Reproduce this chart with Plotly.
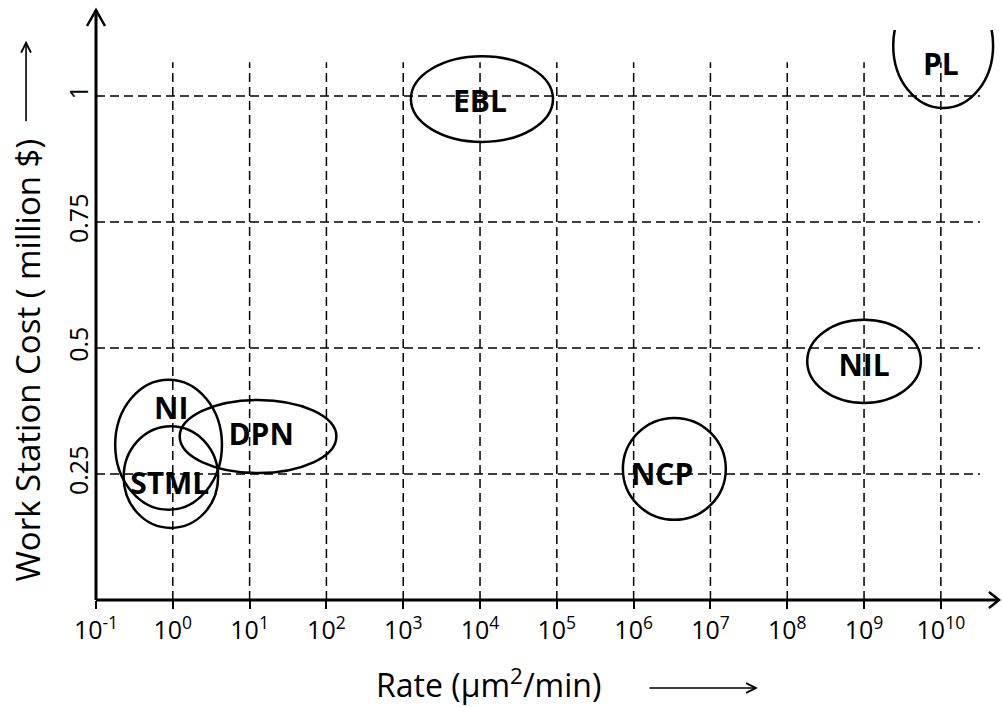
import plotly.graph_objects as go

# ---- data (rates as base-10 exponents of um^2/min, cost in million $) ----
technique = ["NI", "STML", "DPN", "EBL", "NCP", "NIL", "PL"]
rate_exp_low = [-0.75, -0.64, 0.09, 3.10, 5.86, 8.26, 9.38]
rate_exp_high = [0.64, 0.59, 2.13, 4.95, 7.20, 9.74, 10.68]
cost_low = [0.179, 0.143, 0.252, 0.909, 0.159, 0.391, 0.976]
cost_high = [0.437, 0.345, 0.397, 1.079, 0.361, 0.556, 1.224]
label_rate_exp = [-0.02, -0.04, 1.15, 4.0, 6.37, 9.0, 10.0]
label_cost = [0.375, 0.226, 0.323, 0.984, 0.244, 0.460, 1.056]

x_tick_exps = list(range(-1, 11))
x_tick_labels = [f"10<sup>{e}</sup>" for e in x_tick_exps]
y_tick_vals = [0.25, 0.5, 0.75, 1]
y_tick_labels = ["0.25", "0.5", "0.75", "1"]
grid_x = list(range(0, 11))
grid_y = [0.25, 0.5, 0.75, 1.0]

FONT = "Open Sans"
X_RANGE = [-1, 10.77]
Y_RANGE = [0, 1.131]
GRID_X_END = 10.51
GRID_Y_END = 1.067

fig = go.Figure()
fig.add_trace(go.Scatter(
    x=label_rate_exp, y=label_cost, mode="text",
    text=[f"<b>{t}</b>" for t in technique],
    textfont=dict(family=FONT, size=30, color="black"),
    textposition="middle center", hoverinfo="skip", showlegend=False,
))

shapes = []
dash = "9px,5px"
for g in grid_x:
    shapes.append(dict(type="line", xref="x", yref="y", x0=g, x1=g, y0=0, y1=GRID_Y_END,
                       line=dict(color="black", width=1.5, dash=dash), layer="below"))
for g in grid_y:
    shapes.append(dict(type="line", xref="x", yref="y", x0=X_RANGE[0], x1=GRID_X_END, y0=g, y1=g,
                       line=dict(color="black", width=1.5, dash=dash), layer="below"))
for i in range(len(technique)):
    shapes.append(dict(type="circle", xref="x", yref="y",
                       x0=rate_exp_low[i], x1=rate_exp_high[i], y0=cost_low[i], y1=cost_high[i],
                       line=dict(color="black", width=2.5), fillcolor="rgba(0,0,0,0)"))
# axes with arrowheads
shapes.append(dict(type="line", xref="paper", yref="paper", x0=0, x1=0, y0=0, y1=1.035,
                   line=dict(color="black", width=3)))
shapes.append(dict(type="path", xref="paper", yref="paper",
                   path="M -0.00996,1.007 L 0,1.035 L 0.00996,1.007",
                   line=dict(color="black", width=2.5), fillcolor="rgba(0,0,0,0)"))
shapes.append(dict(type="line", xref="paper", yref="paper", x0=0, x1=0.9989, y0=0, y1=0,
                   line=dict(color="black", width=3)))
shapes.append(dict(type="path", xref="paper", yref="paper",
                   path="M 0.9878,0.014 L 0.9989,0 L 0.9878,-0.014",
                   line=dict(color="black", width=2.5), fillcolor="rgba(0,0,0,0)"))

annotations = [
    dict(text="Work Station Cost ( million $)", xref="paper", yref="paper",
         x=-0.0752, y=0.42, textangle=-90, showarrow=False,
         font=dict(family=FONT, size=33, color="black"), xanchor="center", yanchor="middle"),
    dict(text="", xref="paper", yref="paper", x=-0.0774, y=0.981, ax=0, ay=82,
         showarrow=True, arrowhead=5, arrowsize=1.2, arrowwidth=1.6, arrowcolor="black"),
    dict(text="Rate (μm<sup>2</sup>/min)", xref="paper", yref="paper",
         x=0.4347, y=-0.1456, showarrow=False,
         font=dict(family=FONT, size=32, color="black"), xanchor="center", yanchor="middle"),
    dict(text="", xref="paper", yref="paper", x=0.7323, y=-0.1544, ax=-110, ay=0,
         showarrow=True, arrowhead=5, arrowsize=1.2, arrowwidth=1.6, arrowcolor="black"),
]

fig.update_layout(
    template="none",
    width=1002, height=707,
    margin=dict(l=96, r=2, t=30, b=107, autoexpand=False),
    paper_bgcolor="white", plot_bgcolor="white",
    font=dict(family=FONT, color="black"),
    shapes=shapes, annotations=annotations, showlegend=False,
    xaxis=dict(range=X_RANGE, showgrid=False, zeroline=False, showline=False, automargin=False,
               tickmode="array", tickvals=x_tick_exps, ticktext=x_tick_labels,
               ticks="outside", ticklen=8, tickwidth=1.5, tickcolor="black",
               tickfont=dict(family=FONT, size=25, color="black")),
    yaxis=dict(range=Y_RANGE, showgrid=False, zeroline=False, showline=False, automargin=False,
               tickmode="array", tickvals=y_tick_vals, ticktext=y_tick_labels,
               ticks="", tickangle=-90, ticklabelstandoff=2,
               tickfont=dict(family=FONT, size=25, color="black")),
)

fig.write_html("out.html", config={"displayModeBar": False},
               post_script="document.body.style.margin='0px';document.body.style.overflow='hidden';")
